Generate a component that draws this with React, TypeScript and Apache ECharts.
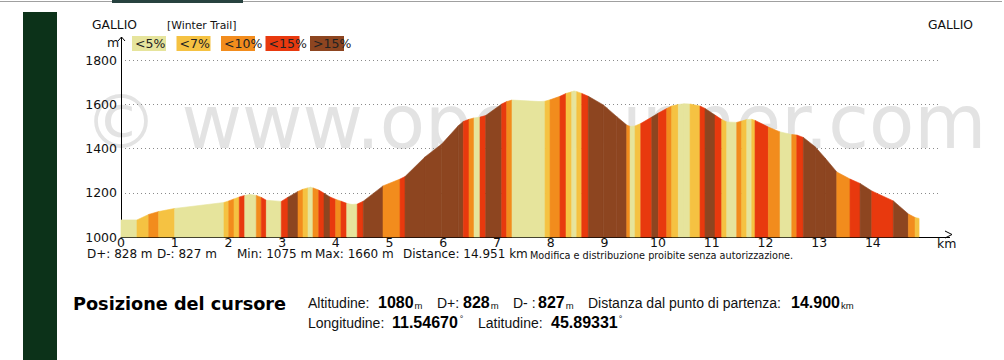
import React, { useEffect, useRef } from 'react';
import * as echarts from 'echarts';

// ---- data ----
const distKm = [
  0, 0.298, 0.516, 0.702, 1.0, 1.918, 2.006, 2.104, 2.203, 2.304,
  2.402, 2.52, 2.613, 2.706, 2.985, 3.11, 3.296, 3.389, 3.482, 3.529,
  3.575, 3.682, 3.78, 3.892, 3.998, 4.097, 4.203, 4.302, 4.4, 4.512,
  4.879, 5.196, 5.289, 5.661, 5.972, 6.281, 6.374, 6.48, 6.574, 6.685,
  6.791, 7.089, 7.182, 7.281, 7.803, 7.896, 7.989, 8.175, 8.287, 8.393,
  8.436, 8.486, 8.579, 8.702, 8.981, 9.231, 9.417, 9.479, 9.572, 9.678,
  9.883, 10.006, 10.162, 10.255, 10.378, 10.484, 10.596, 10.782, 10.875, 11.061,
  11.186, 11.279, 11.465, 11.558, 11.652, 11.745, 11.806, 12.054, 12.272, 12.49,
  12.583, 12.706, 12.924, 13.11, 13.328, 13.575, 13.762, 13.98, 14.382, 14.661,
  14.786, 14.86,
];

const elevM = [
  1077, 1077, 1102, 1115, 1129, 1156, 1163, 1172, 1181, 1188,
  1192, 1188, 1179, 1166, 1161, 1180, 1206, 1216, 1222, 1225,
  1222, 1212, 1198, 1181, 1170, 1162, 1152, 1147, 1149, 1162,
  1231, 1262, 1273, 1362, 1420, 1503, 1522, 1532, 1538, 1542,
  1549, 1601, 1612, 1619, 1612, 1614, 1620, 1636, 1649, 1656,
  1660, 1657, 1649, 1636, 1597, 1544, 1506, 1500, 1502, 1513,
  1542, 1560, 1581, 1592, 1599, 1602, 1601, 1592, 1581, 1551,
  1531, 1520, 1518, 1524, 1531, 1532, 1527, 1497, 1475, 1463,
  1461, 1450, 1408, 1357, 1294, 1262, 1242, 1208, 1163, 1104,
  1088, 1084,
];

// slope class of each segment between consecutive points (0:<5% ... 4:>15%)
const slopeClass = [
  0, 1, 2, 1, 0, 1, 2, 1, 3, 0,
  0, 2, 3, 0, 3, 4, 2, 1, 0, 0,
  2, 3, 4, 3, 2, 3, 0, 0, 3, 4,
  2, 3, 4, 4, 4, 4, 3, 2, 0, 3,
  4, 3, 2, 0, 0, 1, 2, 3, 1, 0,
  0, 1, 3, 4, 4, 4, 2, 0, 1, 3,
  4, 3, 2, 1, 0, 0, 1, 3, 4, 3,
  1, 0, 2, 1, 0, 1, 3, 2, 0, 2,
  3, 4, 4, 4, 2, 3, 4, 3, 4, 2,
  1,
];

const slopeLabels = ['<5%', '<7%', '<10%', '<15%', '>15%'];
const slopeColors = ['#e6e49c', '#f5c242', '#f28c1d', '#e8390e', '#8d4520'];

const yMin = 1000;
const yMax = 1800;
const yStep = 200;
const xMax = 15.25;

const startName = 'GALLIO';
const endName = 'GALLIO';
const trailName = '[Winter Trail]';

const statsTexts = ['D+: 828 m', 'D-: 827 m', 'Min: 1075 m', 'Max: 1660 m', 'Distance: 14.951 km'];
const statsX = [87, 157, 237, 315, 403];
const noticeText = 'Modifica e distribuzione proibite senza autorizzazione.';

const cursorTitle = 'Posizione del cursore';
// [label, value, unit, labelX, valueX]
const cursorRow1: [string, string, string, number, number][] = [
  ['Altitudine:', '1080', 'm', 308, 378],
  ['D+:', '828', 'm', 437, 463],
  ['D- :', '827', 'm', 513, 538],
  ['Distanza dal punto di partenza:', '14.900', 'km', 588, 791],
];
const cursorRow2: [string, string, string, number, number][] = [
  ['Longitudine:', '11.54670', '°', 308, 392],
  ['Latitudine:', '45.89331', '°', 478, 551],
];

const SANS = 'DejaVu Sans';
const ARIAL = 'Liberation Sans';

function txt(text: string, x: number, baseline: number, size: number, o: any = {}) {
  return {
    type: 'text',
    x,
    y: baseline - 0.346 * size,
    silent: true,
    z: o.z ?? 10,
    style: {
      text,
      fontSize: size,
      fontFamily: o.family || SANS,
      fontWeight: o.weight || 'normal',
      fill: o.color || '#111',
      align: o.align || 'left',
      verticalAlign: 'middle',
      textAlign: o.align || 'left',
      textVerticalAlign: 'middle',
    },
  };
}

export default function App() {
  const ref = useRef<HTMLDivElement>(null);

  useEffect(() => {
    if (!ref.current) return;
    const chart = echarts.init(ref.current, undefined, { renderer: 'svg' });

    const n = Math.min(distKm.length, elevM.length);
    const segments: number[][] = [];
    for (let i = 0; i < n - 1; i++) {
      segments.push([distKm[i], distKm[i + 1], elevM[i], elevM[i + 1], slopeClass[i] ?? 0]);
    }

    const graphics: any[] = [];
    // page decorations
    graphics.push({ type: 'rect', silent: true, z: 1, shape: { x: 0, y: 1, width: 1002, height: 1 }, style: { fill: '#a0a0a0' } });
    graphics.push({ type: 'rect', silent: true, z: 1, shape: { x: 112, y: 0, width: 131, height: 3 }, style: { fill: '#27423f' } });
    graphics.push({ type: 'rect', silent: true, z: 1, shape: { x: 23, y: 12, width: 34, height: 348 }, style: { fill: '#0c3219' } });

    // watermark
    graphics.push(txt('© www.openrunner.com', 84, 148, 74, { color: '#e3e3e3', z: 0 }));

    // titles
    graphics.push(txt(startName, 92, 29, 12.3));
    graphics.push(txt(trailName, 167, 29, 10.8));
    graphics.push(txt(endName, 928, 29, 12.3));
    graphics.push(txt('m', 107, 47, 12.5));

    // legend
    slopeLabels.forEach((lab, i) => {
      const bx = 132 + i * 44.5;
      graphics.push({ type: 'rect', silent: true, z: 5, shape: { x: bx, y: 36, width: 34, height: 15 }, style: { fill: slopeColors[i] } });
      graphics.push(txt(lab, bx + 3, 48, 12.5, { color: '#222' }));
    });

    // axis extensions with arrow heads
    graphics.push({ type: 'line', silent: true, z: 5, shape: { x1: 121.5, y1: 60, x2: 121.5, y2: 37 }, style: { stroke: '#000', lineWidth: 1 } });
    graphics.push({ type: 'polyline', silent: true, z: 5, shape: { points: [[118, 41], [121.5, 37], [125, 41]] }, style: { stroke: '#000', lineWidth: 1, fill: 'none' } });
    graphics.push({ type: 'line', silent: true, z: 5, shape: { x1: 940, y1: 237.5, x2: 950, y2: 237.5 }, style: { stroke: '#000', lineWidth: 1 } });
    graphics.push({ type: 'polyline', silent: true, z: 5, shape: { points: [[945, 231], [952, 234.5], [945, 238]] }, style: { stroke: '#000', lineWidth: 1, fill: 'none' } });
    graphics.push(txt('km', 937, 248, 12.5));

    // stats line
    statsTexts.forEach((s, i) => graphics.push(txt(s, statsX[i], 258, 12)));
    graphics.push(txt(noticeText, 530, 258.5, 9.7));

    // cursor block
    graphics.push(txt(cursorTitle, 73, 310, 17.7, { weight: 'bold', color: '#000' }));
    const valSize = 16;
    const valWidth = (s: string) =>
      s.split('').reduce((w, ch) => w + (ch === '.' ? 0.278 : 0.556), 0) * valSize;
    const addRow = (row: [string, string, string, number, number][], base: number) => {
      row.forEach(([lab, val, unit, lx, vx]) => {
        graphics.push(txt(lab, lx, base, 14, { family: ARIAL }));
        graphics.push(txt(val, vx, base, valSize, { family: ARIAL, weight: 'bold', color: '#000' }));
        const ux = vx + valWidth(val) + 1;
        if (unit === '°') graphics.push(txt(unit, ux, base - 6, 9, { family: ARIAL }));
        else graphics.push(txt(unit, ux, base, 9.5, { family: ARIAL }));
      });
    };
    addRow(cursorRow1, 308.3);
    addRow(cursorRow2, 328.3);

    const option: any = {
      animation: false,
      backgroundColor: '#ffffff',
      grid: { left: 121, right: 64, top: 60, bottom: 123, containLabel: false, outerBoundsMode: 'none' },
      xAxis: {
        type: 'value',
        min: 0,
        max: xMax,
        interval: 1,
        axisLine: { show: true, onZero: false, lineStyle: { color: '#000', width: 1 } },
        axisTick: { show: false },
        splitLine: { show: false },
        axisLabel: {
          margin: 0,
          color: '#111',
          fontFamily: SANS,
          fontSize: 12.5,
          lineHeight: 11,
          showMaxLabel: false,
          formatter: (v: number) => (v > 14.5 ? '' : String(v)),
        },
      },
      yAxis: {
        type: 'value',
        min: yMin,
        max: yMax,
        interval: yStep,
        axisLine: { show: true, lineStyle: { color: '#000', width: 1 } },
        axisTick: { show: false },
        splitLine: { show: true, lineStyle: { color: '#8a8a8a', width: 1, type: [1, 3] } },
        axisLabel: {
          margin: 4,
          color: '#111',
          fontFamily: SANS,
          fontSize: 12.5,
          formatter: (v: number) => String(v),
        },
      },
      series: [
        {
          type: 'custom',
          coordinateSystem: 'cartesian2d',
          silent: true,
          z: 3,
          data: segments,
          encode: { x: [0, 1], y: [2, 3] },
          renderItem: (_params: any, api: any) => {
            const x0 = api.value(0);
            const x1 = api.value(1);
            const y0 = api.value(2);
            const y1 = api.value(3);
            const c = slopeColors[api.value(4)] || slopeColors[0];
            const a = api.coord([x0, y0]);
            const b = api.coord([x1, y1]);
            const base = api.coord([x0, yMin])[1];
            return {
              type: 'polygon',
              shape: { points: [[a[0], base], [a[0], a[1]], [b[0], b[1]], [b[0], base]] },
              style: { fill: c, stroke: c, lineWidth: 0.6 },
            };
          },
        },
      ],
      graphic: { elements: graphics },
    };

    chart.setOption(option);
    return () => chart.dispose();
  }, []);

  return (
    <div
      ref={ref}
      style={{ position: 'absolute', left: 0, top: 0, width: 1004, height: 360, background: '#fff' }}
    />
  );
}
